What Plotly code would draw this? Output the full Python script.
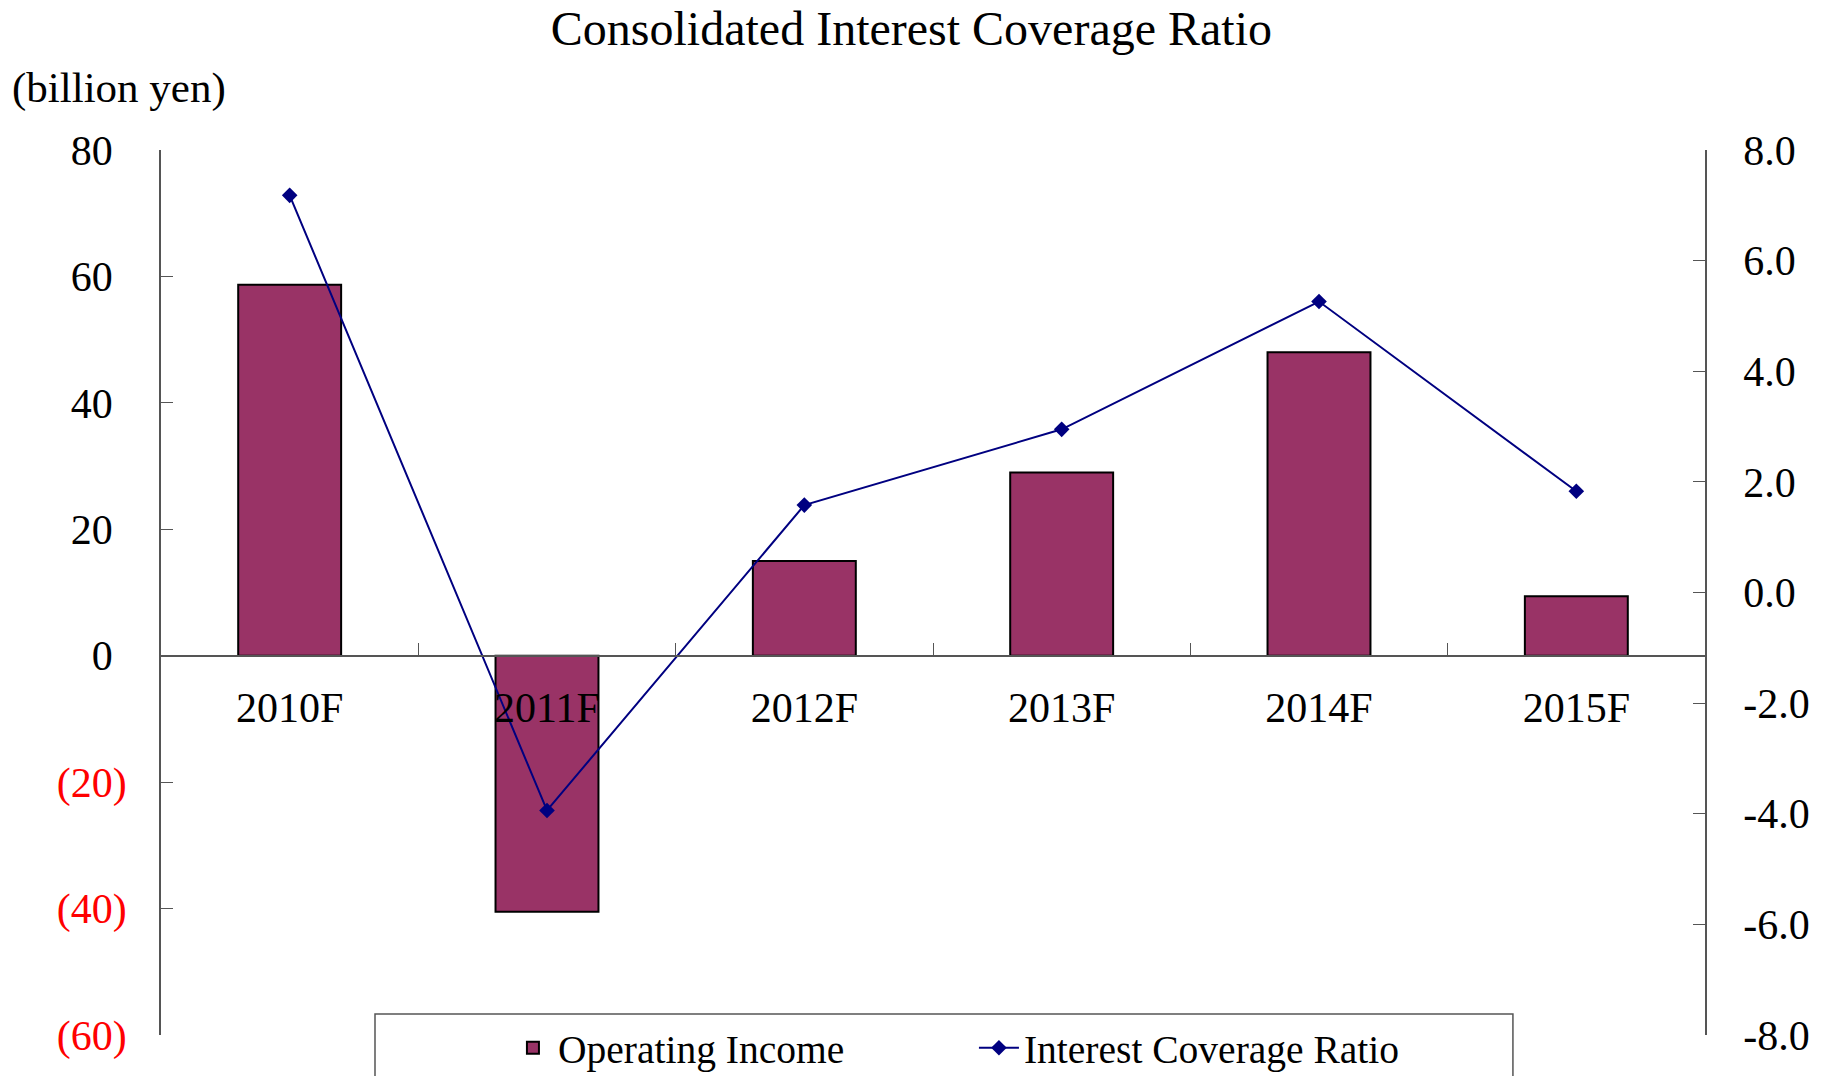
import plotly.graph_objects as go

# 数据
years = ["2010F", "2011F", "2012F", "2013F", "2014F", "2015F"]
operating_income = [58.7, -40.5, 15.0, 29.0, 48.0, 9.4]
coverage_ratio = [7.18, -3.94, 1.58, 2.95, 5.26, 1.83]

left_tickvals = [-60, -40, -20, 0, 20, 40, 60, 80]
left_ticktext = ["(60)", "(40)", "(20)", "0", "20", "40", "60", "80"]
right_tickvals = [-8, -6, -4, -2, 0, 2, 4, 6, 8]
right_ticktext = ["-8.0", "-6.0", "-4.0", "-2.0", "0.0", "2.0", "4.0", "6.0", "8.0"]

FONT = "Liberation Serif"
AXIS_COLOR = "#555555"
BAR_COLOR = "#993366"
LINE_COLOR = "#000080"

# 页面 body 默认有 8px 外边距，图整体缩小 8px 以对齐
W, H = 1817, 1068


def left_label(val, txt):
    # 负数红色，正数后面补一个隐形的括号占位（对齐）
    if val < 0:
        return f'<span style="color:#FF0000">{txt}</span>'
    return f'{txt}<span style="color:rgba(0,0,0,0)">)</span>'


fig = go.Figure()

fig.add_trace(go.Bar(
    x=years,
    y=operating_income,
    name="Operating Income",
    marker=dict(color=BAR_COLOR, line=dict(color="black", width=2)),
    yaxis="y",
))

fig.add_trace(go.Scatter(
    x=years,
    y=coverage_ratio,
    name="Interest Coverage Ratio",
    mode="lines+markers",
    line=dict(color=LINE_COLOR, width=2),
    marker=dict(symbol="diamond", size=12, color=LINE_COLOR),
    yaxis="y2",
))

y_lo, y_hi = -60, 80

fig.update_layout(
    width=W,
    height=H,
    margin=dict(l=153, r=120, t=142, b=41, autoexpand=False),
    paper_bgcolor="white",
    plot_bgcolor="white",
    font=dict(family=FONT, size=42, color="black"),
    title=dict(
        text="Consolidated Interest Coverage Ratio",
        x=(783 * 1.164 - 8) / W, xanchor="center",
        y=1 - 20 / H, yanchor="middle",
        yref="container",
        font=dict(family=FONT, size=48, color="black"),
    ),
    bargap=0.6,
    showlegend=True,
    legend=dict(
        orientation="h",
        x=0.2247, xanchor="left",
        y=1 - 1040 / H, yanchor="middle",
        yref="container",
        font=dict(family=FONT, size=39.5, color="black"),
        bgcolor="rgba(0,0,0,0)",
        entrywidth=411,
        itemwidth=40,
    ),
    xaxis=dict(
        type="category",
        categoryorder="array",
        categoryarray=years,
        anchor="free",
        position=(0 - y_lo) / (y_hi - y_lo),
        showline=True,
        linecolor=AXIS_COLOR,
        linewidth=1.5,
        ticks="inside",
        tickson="boundaries",
        ticklen=12,
        tickcolor=AXIS_COLOR,
        showgrid=False,
        zeroline=False,
        ticklabelstandoff=15,
        tickfont=dict(family=FONT, size=42, color="black"),
    ),
    yaxis=dict(
        range=[y_lo, y_hi],
        tickvals=left_tickvals,
        ticktext=[left_label(v, t) for v, t in zip(left_tickvals, left_ticktext)],
        showline=True,
        linecolor=AXIS_COLOR,
        linewidth=1.5,
        ticks="inside",
        ticklen=12,
        tickcolor=AXIS_COLOR,
        showgrid=False,
        zeroline=False,
        ticklabelstandoff=24,
        tickfont=dict(family=FONT, size=42, color="black"),
    ),
    yaxis2=dict(
        range=[-8, 8],
        tickvals=right_tickvals,
        ticktext=right_ticktext,
        overlaying="y",
        side="right",
        showline=True,
        linecolor=AXIS_COLOR,
        linewidth=1.5,
        ticks="inside",
        ticklen=12,
        tickcolor=AXIS_COLOR,
        showgrid=False,
        zeroline=False,
        ticklabelstandoff=28,
        tickfont=dict(family=FONT, size=42, color="black"),
    ),
    annotations=[dict(
        text="(billion yen)",
        xref="paper", yref="paper",
        x=-0.0978, xanchor="left",
        y=1.07, yanchor="middle",
        showarrow=False,
        font=dict(family=FONT, size=43, color="black"),
    )],
    shapes=[dict(
        type="rect",
        xref="paper", yref="paper",
        x0=0.1386, x1=0.8756,
        y0=-0.2, y1=0.0237,
        line=dict(color=AXIS_COLOR, width=1.5),
        fillcolor="white",
        layer="below",
    )],
)

fig.write_html("out.html")
